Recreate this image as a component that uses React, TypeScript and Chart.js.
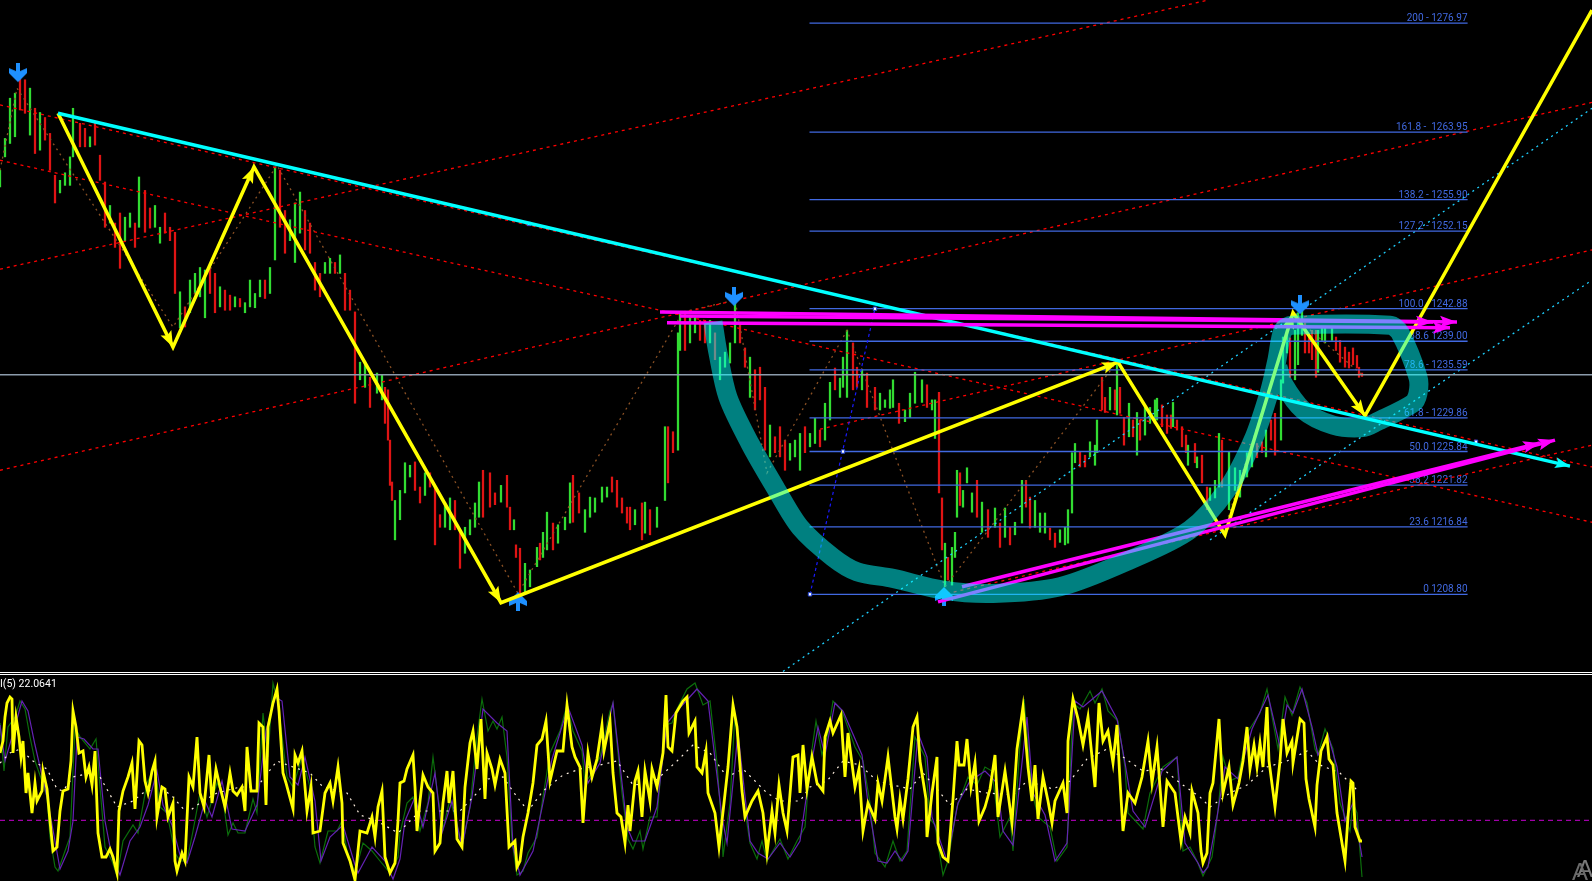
import React, { useEffect, useRef } from "react";
import { Chart, registerables } from "chart.js";

Chart.register(...registerables);

// ---------- price bars: [time, high, low, up(1)/down(0)] ----------
const barsFirstLeg: number[][] = [
  [0,1259.4,1257.4,1],[5,1263.2,1261.0,1],[10,1268.0,1262.6,1],[15,1268.6,1263.4,1],[20,1270.4,1266.6,0],[25,1270.2,1266.2,0],[30,1269.2,1263.6,1],[35,1266.8,1261.4,0],[40,1266.3,1261.8,1],[45,1265.7,1263.0,0],
  [50,1263.8,1259.4,0],[55,1258.8,1255.5,0],[60,1258.2,1256.7,1],[65,1259.1,1257.6,1],[70,1261.0,1257.6,1],[73,1266.8,1261.0,1],[80,1265.0,1262.2,0],[85,1264.4,1262.2,0],[90,1263.4,1262.2,1],[95,1265.1,1262.4,0],
  [100,1261.2,1258.2,0],[105,1258.0,1252.6,0],[110,1255.2,1253.1,1],[115,1253.1,1250.2,0],[120,1254.3,1247.7,0],[125,1253.8,1251.0,1],[130,1254.3,1252.6,1],[135,1253.1,1250.2,0],[139,1258.6,1252.6,1],[145,1257.0,1252.0,0],
  [150,1254.9,1252.5,0],[155,1255.2,1252.6,1],[160,1252.6,1250.7,1],[165,1254.3,1251.9,0],[170,1252.6,1251.0,0],[175,1252.0,1244.7,0],[180,1244.9,1240.6,1],[185,1243.1,1240.7,0],[190,1246.3,1242.4,1],[195,1247.1,1244.7,1],
  [200,1247.8,1244.3,1],[205,1247.5,1241.8,1],[210,1247.8,1244.7,0],[215,1247.1,1242.4,0],[220,1245.5,1243.1,1],[225,1245.1,1242.7,0],[230,1244.5,1242.7,0],[235,1244.3,1243.1,1],[240,1244.1,1243.1,0],[245,1243.6,1242.4,1],
  [250,1246.3,1243.1,1],[255,1244.7,1243.0,1],[260,1246.3,1244.3,1],[265,1246.3,1244.1,0],[270,1247.8,1244.7,1],[275,1259.8,1248.7,1],[280,1259.4,1252.6,0],[285,1254.6,1249.5,0],[290,1253.5,1251.0,1],[295,1255.5,1248.4,1],
  [300,1256.8,1251.9,1],[305,1254.6,1249.9,0],[310,1253.1,1249.5,0],[315,1248.4,1245.1,0],[320,1247.1,1244.3,0],[325,1248.4,1247.1,1],[330,1248.9,1247.1,1],[335,1248.4,1247.1,0],[340,1249.3,1247.1,1],[345,1247.1,1242.7,0],
  [350,1245.1,1242.7,0],[355,1242.5,1231.6,0],[360,1236.5,1234.4,1],[365,1236.4,1233.5,1],[370,1234.7,1231.1,0],[377,1235.2,1232.8,1],[382,1235.0,1232.0,1],[385,1233.5,1229.2,0],[388,1233.2,1227.2,0],[390,1227.2,1221.8,0],
  [392,1222.2,1220.0,0],[395,1220.0,1215.3,1],[400,1221.2,1217.7,1],[405,1224.5,1220.9,1],[410,1224.2,1222.8,1],[415,1224.6,1221.2,0],[420,1221.6,1219.7,0],[425,1223.3,1220.6,1],[430,1223.3,1221.6,0],[435,1221.6,1214.7,0],
  [440,1218.3,1216.8,0],[445,1219.7,1216.8,1],[450,1220.3,1216.5,1],[455,1220.0,1216.5,0],[460,1216.5,1211.9,0],[465,1216.8,1213.7,1],[470,1217.7,1215.9,1],[475,1219.7,1216.8,1],[479,1222.2,1218.0,1],[483,1223.6,1218.0,0],
  [490,1223.3,1219.2,0],[495,1220.9,1219.5,0],[501,1221.8,1219.8,1],[507,1223.0,1219.2,0],[510,1219.2,1216.5,0],[514,1217.7,1216.5,1],
];
const barsSecondLeg: number[][] = [
  [516,1214.7,1213.2,0],[520,1214.3,1208.9,0],[525,1212.5,1208.9,1],[530,1211.7,1209.7,1],[537,1214.4,1212.1,1],[540,1214.9,1212.9,0],[543,1216.2,1213.2,1],[547,1218.6,1214.1,1],[553,1217.3,1214.1,0],[558,1217.1,1214.9,1],
  [565,1218.0,1216.5,1],[570,1222.1,1217.3,1],[573,1223.0,1217.4,0],[579,1220.9,1218.5,0],[585,1218.9,1216.2,1],[590,1220.4,1218.0,1],[595,1220.3,1218.6,1],[602,1221.6,1219.8,1],[607,1221.6,1220.4,1],[612,1222.8,1221.0,0],
  [617,1222.4,1219.2,0],[622,1220.3,1218.5,0],[627,1219.2,1217.3,0],[630,1219.2,1216.5,0],[635,1218.9,1217.1,1],[642,1219.7,1215.3,0],[645,1219.8,1216.1,1],[650,1218.9,1215.9,0],[657,1219.2,1216.8,1],[665,1228.8,1220.0,1],
  [668,1228.8,1222.1,0],[673,1228.2,1225.7,0],[678,1240.0,1226.0,1],[680,1242.5,1237.9,1],[685,1242.4,1237.9,0],[690,1242.1,1238.8,1],[695,1241.9,1240.0,1],[700,1241.5,1239.1,0],[705,1241.5,1238.8,0],[710,1241.5,1238.8,1],
  [715,1240.0,1236.8,0],[720,1237.1,1234.4,1],[725,1237.7,1235.9,1],[730,1238.8,1236.4,1],[735,1243.6,1238.8,1],[740,1241.2,1238.8,0],[745,1238.2,1235.9,0],[750,1237.1,1232.3,1],[755,1235.6,1230.8,0],[760,1235.9,1232.0,0],
  [765,1233.5,1226.0,0],[770,1229.0,1225.2,1],[775,1227.6,1225.7,0],[780,1228.8,1225.2,0],[785,1227.2,1223.6,0],[790,1226.8,1224.8,1],[795,1227.2,1225.2,1],[800,1228.0,1223.6,1],[805,1228.8,1225.7,0],[810,1228.0,1226.4,1],
  [815,1229.8,1226.8,1],[820,1228.4,1226.4,0],[825,1231.6,1227.2,1],[830,1234.1,1229.6,1],[835,1235.8,1233.2,0],[840,1234.6,1232.3,1],[843,1237.1,1233.5,1],[847,1240.3,1232.3,1],[853,1238.8,1233.2,0],[857,1235.9,1233.5,0],
  [862,1235.6,1233.2,1],[867,1235.2,1231.1,0],[875,1233.5,1230.8,0],[880,1232.8,1230.8,1],[885,1232.0,1231.1,1],[890,1233.2,1231.0,1],[893,1234.4,1231.1,1],[899,1231.6,1229.2,0],[905,1230.8,1229.4,1],[910,1232.8,1229.9,1],
  [915,1235.3,1231.6,1],[922,1234.4,1231.7,1],[927,1233.8,1231.1,0],[932,1232.0,1230.8,1],[935,1232.0,1227.4,1],[939,1232.9,1220.9,0],[942,1220.3,1214.1,0],[945,1214.9,1209.7,1],[948,1213.2,1210.5,0],[952,1214.4,1209.9,1],
  [955,1216.2,1213.2,1],[957,1223.6,1218.0,1],[960,1223.3,1219.4,0],[963,1221.2,1219.2,1],[967,1223.9,1222.1,1],[972,1220.9,1218.6,1],[977,1222.4,1218.0,0],[982,1219.8,1216.2,1],[988,1218.9,1215.6,0],[995,1219.1,1216.8,1],
];
const barsThirdLeg: number[][] = [
  [1000,1217.3,1214.4,0],[1005,1219.1,1215.6,1],[1010,1216.8,1214.7,0],[1015,1217.4,1215.9,1],[1022,1222.4,1217.3,1],[1026,1222.4,1219.2,0],[1030,1220.4,1216.7,0],[1035,1220.0,1216.8,1],[1040,1218.5,1216.2,1],[1045,1218.5,1216.1,1],
  [1050,1216.7,1215.3,0],[1055,1216.1,1214.4,0],[1060,1216.5,1215.0,1],[1065,1216.8,1214.7,1],[1068,1218.9,1214.9,1],[1072,1225.7,1218.5,1],[1075,1226.8,1224.5,1],[1080,1225.8,1224.0,0],[1085,1225.4,1224.0,0],[1090,1227.0,1225.2,1],
  [1095,1226.6,1224.2,1],[1097,1229.6,1225.7,1],[1102,1234.7,1230.8,0],[1105,1232.3,1230.5,0],[1110,1233.5,1230.8,1],[1115,1233.2,1230.8,0],[1117,1236.8,1230.2,1],[1120,1233.5,1230.4,0],[1124,1229.9,1226.6,0],[1129,1231.6,1227.6,1],
  [1133,1229.6,1227.6,0],[1137,1230.5,1225.4,1],[1140,1229.6,1227.2,0],[1145,1231.4,1227.8,1],[1150,1231.1,1229.2,1],[1155,1232.0,1229.6,1],[1157,1232.2,1229.6,1],[1162,1231.4,1228.8,0],[1167,1230.2,1228.0,0],[1171,1230.2,1228.6,0],
  [1173,1231.7,1228.8,1],[1177,1229.6,1228.4,0],[1182,1228.8,1226.4,0],[1186,1227.8,1225.7,0],[1188,1226.6,1224.2,1],[1195,1226.8,1224.5,0],[1197,1225.2,1223.9,1],[1202,1225.4,1222.1,0],[1207,1221.6,1218.9,0],[1210,1221.5,1220.0,1],
  [1215,1222.4,1220.3,1],[1219,1228.0,1221.6,1],[1222,1227.2,1221.6,0],[1229,1225.8,1218.9,1],[1235,1223.9,1221.2,1],[1240,1223.6,1220.4,1],[1247,1225.7,1222.8,1],[1252,1226.8,1224.0,1],[1257,1226.8,1225.1,0],[1262,1227.0,1225.7,0],
  [1266,1228.4,1225.2,1],[1271,1229.6,1227.2,0],[1275,1230.4,1225.4,0],[1281,1234.4,1227.2,1],[1283,1239.5,1234.0,1],[1287,1240.3,1237.6,1],[1290,1239.4,1234.7,0],[1295,1240.3,1234.4,1],[1298,1242.4,1236.2,1],[1302,1242.7,1239.7,1],
  [1305,1241.2,1237.6,0],[1309,1239.7,1237.6,0],[1312,1240.3,1236.8,0],[1316,1240.3,1234.7,0],[1318,1240.3,1235.3,1],[1322,1240.6,1239.1,1],[1325,1240.6,1238.8,1],[1332,1240.6,1239.1,1],[1336,1239.5,1237.9,0],[1340,1239.1,1236.5,0],
  [1345,1238.3,1235.9,0],[1349,1237.7,1235.8,0],[1353,1238.2,1236.2,0],[1357,1237.3,1235.8,0],[1359,1235.9,1234.7,0],[1362,1235.2,1234.8,0],
];

// ---------- fibonacci levels ----------
const fibPrices = [1276.97, 1263.95, 1255.9, 1252.15, 1242.88, 1239.0, 1235.59, 1229.86, 1225.84, 1221.82, 1216.84, 1208.8];
const fibLabels = ["200 - 1276.97", "161.8 -  1263.95", "138.2 - 1255.90", "127.2 - 1252.15", "100.0 - 1242.88", "88.6 1239.00", "78.6 - 1235.59", "61.8 - 1229.86", "50.0 1225.84", "38.2 1221.82", "23.6 1216.84", "0 1208.80"];
const fibStart = 809.5;
const fibEnd = 1467.6;
const bidPrice = 1235.0;

// ---------- drawn objects, [time, price] ----------
const redChannels: number[][][] = [
  [[0,1267.2],[1592,1224.0]],
  [[0,1260.6],[1592,1217.4]],
  [[0,1247.6],[1208,1279.7]],
  [[0,1223.6],[1592,1267.5]],
  [[820,1228.5],[1592,1249.9]],
  [[940,1208.7],[1592,1226.6]],
];
const cyanChannels: number[][][] = [
  [[783,1199.6],[1592,1266.8]],
  [[1210,1215.3],[1592,1246.3]],
];
const zigzag: number[][] = [[0,1259.4],[17,1269.2],[173,1240.7],[277,1260.0],[518,1208.9],[683,1242.5],[735,1243.9],[767,1223.3],[847,1240.3],[945,1209.7],[1118,1236.7],[1223,1216.1],[1293,1242.1],[1362,1235.0]];
const fibBaseline: number[][] = [[810,1208.8],[875,1242.9]];
const handles: number[][] = [[810,1208.8],[843,1225.84],[875,1242.88],[529,1253.0],[1476,1227.0]];
const yellowWaves: number[][] = [[58,1266.2],[173,1238.3],[254,1259.8],[501,1207.8],[1118,1236.5],[1225,1215.9],[1293,1242.4],[1365,1230.1],[1592,1278.5]];
const cyanTrend: number[][] = [[58,1266.2],[1570,1224.1]];
const magentaArrows: number[][][] = [
  [[660,1242.5],[1457,1241.3]],
  [[680,1242.0],[1433,1241.3]],
  [[667,1241.2],[1450,1240.6]],
  [[938,1207.9],[1555,1227.2]],
  [[962,1209.7],[1540,1226.85]],
];
const cupHandle: number[][] = [[713,1241.3],[718,1237.6],[728,1232.3],[750,1226.8],[775,1221.6],[800,1216.8],[833,1213.2],[857,1211.5],[893,1210.7],[943,1209.3],[993,1208.9],[1060,1209.7],[1130,1212.9],[1190,1216.5],[1227,1221.3],[1253,1227.2],[1270,1233.2],[1277,1236.8],[1283,1240.3],[1292,1240.9],[1390,1240.9],[1400,1240.0],[1418,1234.7],[1418,1232.8],[1413,1231.6],[1377,1229.4],[1363,1228.7],[1333,1229.0],[1303,1230.8],[1283,1234.0],[1278,1235.9]];
const downMarks: number[][] = [[18,1271.0],[734,1244.3],[1300,1243.3]];
const upMarks: number[][] = [[518,1208.0],[944,1208.6]];

// ---------- oscillator, [time, value] ----------
const oscLevel = 30.3;
const oscReadout = "I(5) 22.0641";
const fastA: number[][] = [[0,64],[3,70],[5,82],[7,89],[10,92],[12,91],[13,64],[16,82],[19,72],[21,62],[23,70],[26,44],[28,54],[32,34],[35,49],[37,40],[42,45],[43,55],[47,46],[50,30],[53,15],[57,17],[60,35],[63,45],[68,46],[71,60],[73,85],[76,77],[79,64],[83,65],[86,52],[89,57],[92,48],[95,65],[98,24],[102,12],[106,12],[110,16],[113,12],[117,4],[119,35],[123,45],[128,52],[132,59],[135,36],[139,70],[142,68],[145,50],[148,44],[152,55],[155,60],[157,32],[162,47],[165,46],[168,32],[173,39],[175,10],[177,5],[182,14],[185,10],[189,52],[193,47],[197,72],[200,44],[204,37],[209,63],[212,39],[216,56],[220,47],[225,37],[230,54],[233,45],[237,43],[242,47],[245,35],[247,67],[251,45],[257,45],[259,79],[263,77],[266,38],[268,77],[273,89],[277,96],[279,85],[283,54],[286,49],[293,36],[295,63],[298,59],[302,65],[307,35],[311,47],[313,24],[320,25],[325,44],[330,49],[333,40],[338,57],[342,39],[343,19],[350,10],[355,0.5],[360,25],[367,24],[372,32],[375,22],[378,37],[382,45],[385,12],[390,4],[395,9],[398,30]];
const fastB: number[][] = [[400,49],[404,50],[407,56],[413,63],[415,47],[417,25],[420,40],[423,53],[428,47],[433,44],[435,15],[440,19],[443,39],[447,55],[449,39],[453,55],[457,21],[462,17],[465,47],[470,69],[473,75],[477,56],[481,81],[485,41],[487,64],[492,56],[495,48],[500,61],[505,54],[509,17],[515,20],[517,7],[520,10],[523,22],[528,34],[533,49],[537,68],[542,71],[546,80],[550,50],[557,65],[563,65],[567,88],[572,67],[575,62],[580,57],[583,29],[588,64],[592,52],[597,61],[602,78],[604,65],[610,80],[613,54],[617,34],[621,32],[625,19],[628,38],[630,25],[635,50],[638,55],[642,32],[645,55],[650,40],[652,56],[657,47],[663,64],[666,93],[668,67],[672,65],[676,84],[683,90],[687,92],[689,74],[695,80],[697,57],[702,54],[706,65],[708,44],[715,34],[719,17],[724,39],[728,57],[733,88],[737,77],[742,45],[745,32],[752,40],[758,45],[763,34],[767,14],[772,35],[775,24],[779,48],[783,34],[787,25],[793,62],[798,63]];
const fastC: number[][] = [[800,44],[803,68],[807,46],[812,62],[817,49],[823,45],[825,72],[830,80],[833,74],[841,83],[845,52],[848,74],[855,47],[859,56],[863,25],[868,39],[875,31],[878,49],[882,40],[888,62],[895,32],[897,26],[900,41],[903,31],[908,51],[913,77],[917,82],[920,60],[926,41],[927,22],[932,44],[937,62],[938,19],[943,12],[948,10],[953,41],[957,70],[959,58],[964,58],[967,71],[971,47],[975,59],[979,30],[985,37],[990,46],[995,63],[998,32],[1005,55],[1012,29],[1017,66],[1023,87],[1028,57],[1032,40],[1035,58],[1038,31],[1043,52],[1048,40],[1052,29],[1055,40],[1063,49],[1067,34],[1068,70],[1073,91],[1078,81],[1083,68],[1088,82],[1095,47],[1099,89],[1103,70],[1108,75],[1113,59],[1117,78],[1120,50],[1123,25],[1128,44],[1135,39],[1142,52],[1148,70],[1152,49],[1157,67],[1163,27],[1167,50],[1175,44],[1181,20],[1185,32],[1190,24],[1192,45],[1198,34],[1201,15],[1203,9],[1207,14],[1210,44],[1213,49],[1219,81],[1223,44],[1229,57],[1233,38],[1239,49],[1243,60],[1247,77],[1250,56],[1254,68],[1257,57],[1260,69],[1263,57],[1267,87],[1269,60],[1275,37],[1280,60],[1283,81],[1287,64],[1292,70],[1293,59],[1300,81],[1304,79],[1306,51],[1309,41],[1315,27],[1317,48],[1321,65],[1327,72],[1329,61],[1333,58],[1337,34],[1345,10],[1348,32],[1351,50],[1353,49],[1355,27],[1360,20],[1362,20]];
const greenLine: number[][] = [[0,79],[4,55],[8,77],[15,82],[20,90],[25,86],[30,72],[35,60],[42,50],[47,42],[50,22],[55,7],[58,5],[65,15],[70,22],[75,77],[80,72],[90,66],[96,71],[100,47],[105,17],[112,10],[117,2.5],[123,20],[133,28],[138,24],[147,49],[155,57],[160,37],[167,34],[175,14],[180,10],[187,10],[193,25],[200,44],[207,32],[217,49],[222,44],[228,23],[233,29],[238,24],[245,24],[253,41],[257,34],[263,84],[268,62],[273,99],[278,89],[287,52],[293,47],[302,62],[310,47],[315,17],[320,9],[328,25],[337,25],[342,30],[347,15],[355,4],[363,19],[372,15],[380,10],[390,4],[398,12],[400,24],[407,39],[413,42],[420,25],[428,39],[433,62],[438,42],[443,26],[450,41],[455,32],[462,17],[470,37],[477,72],[482,91],[488,75],[493,80],[497,76],[502,82],[507,62],[512,20],[517,3],[523,5],[528,14],[537,22],[543,42],[550,64],[560,75],[567,88],[573,75],[582,65],[585,49],[592,54],[600,62],[610,85],[613,89],[622,44],[628,21],[633,16],[640,25],[643,16],[650,32],[657,32],[665,78],[672,79],[677,86],[687,96],[695,99],[703,88],[710,90],[717,59],[722,25],[723,12],[730,39],[735,84],[743,42],[750,19],[757,11],[762,20],[767,10],[780,21],[788,11],[797,20],[805,27],[810,59],[816,80],[822,63],[828,74],[833,90],[842,85],[855,67],[863,60],[870,39],[875,14],[885,7],[893,20],[900,10],[907,15],[915,72],[925,62],[930,31],[935,28],[943,3],[948,10],[957,37],[968,52],[977,48],[985,57],[992,55],[1000,22],[1010,32],[1013,15],[1020,69],[1024,91],[1032,45],[1038,32],[1050,27],[1057,10],[1067,17],[1073,89],[1080,86],[1090,95],[1095,89],[1102,96],[1108,85],[1118,80],[1125,57],[1128,34],[1143,26],[1150,44],[1163,57],[1177,62],[1183,15],[1190,17],[1197,10],[1203,2.5],[1212,12],[1218,35],[1223,62],[1230,50],[1238,52],[1247,74],[1260,84],[1267,96],[1278,66],[1285,92],[1292,83],[1300,97],[1307,89],[1315,66],[1318,63],[1325,76],[1333,66],[1340,39],[1350,25],[1353,39],[1357,34],[1362,2]];
const purpleLine: number[][] = [[0,78],[5,60],[12,72],[22,90],[28,85],[35,68],[47,42],[55,20],[60,6],[68,15],[73,30],[77,72],[84,71],[93,66],[98,66],[105,30],[112,12],[120,3],[130,20],[140,27],[148,38],[157,55],[163,38],[172,28],[180,13],[187,9],[195,22],[205,40],[212,32],[222,50],[232,26],[245,25],[257,38],[266,75],[275,92],[282,90],[290,52],[298,48],[305,62],[315,40],[321,10],[330,22],[343,28],[355,8],[358,4],[372,17],[385,10],[393,1],[400,11],[405,30],[415,42],[423,27],[435,54],[442,24],[452,40],[462,17],[472,42],[483,86],[497,79],[507,75],[513,17],[520,3],[533,15],[543,39],[552,61],[568,87],[582,68],[588,49],[600,59],[613,89],[627,27],[633,20],[645,20],[657,37],[667,79],[677,85],[697,96],[708,90],[722,32],[727,19],[738,74],[750,20],[758,14],[768,11],[780,19],[790,12],[800,20],[810,55],[818,77],[825,63],[835,89],[843,85],[862,63],[868,39],[878,10],[887,9],[895,15],[902,10],[908,15],[918,74],[927,62],[932,32],[947,10],[958,39],[970,50],[985,55],[997,49],[1003,25],[1013,18],[1027,82],[1033,44],[1045,33],[1055,10],[1067,19],[1075,90],[1083,87],[1102,95],[1117,81],[1125,59],[1133,35],[1145,27],[1162,55],[1177,62],[1185,19],[1198,9],[1203,4],[1208,7],[1217,32],[1225,57],[1238,51],[1252,76],[1268,93],[1280,67],[1287,88],[1293,84],[1302,96],[1312,77],[1318,63],[1328,73],[1337,57],[1345,30],[1353,39],[1362,12]];
const signalLine: number[][] = [[0,59],[10,64],[20,66],[33,60],[47,56],[57,46],[63,45],[73,52],[90,54],[100,52],[117,37],[133,40],[143,44],[160,47],[173,42],[187,34],[200,39],[217,44],[240,47],[257,47],[277,60],[293,57],[310,54],[323,47],[347,44],[360,33],[377,30],[398,24],[420,35],[443,35],[460,35],[477,44],[488,51],[503,52],[517,42],[528,35],[543,45],[563,53],[580,56],[600,58],[617,60],[633,48],[653,49],[677,60],[693,68],[710,64],[727,52],[743,56],[767,44],[780,40],[800,40],[810,47],[827,50],[843,60],[860,58],[877,50],[893,48],[910,46],[923,54],[937,46],[950,38],[967,46],[987,44],[1013,43],[1027,50],[1053,46],[1070,50],[1087,61],[1107,66],[1123,62],[1143,55],[1163,56],[1180,49],[1200,42],[1210,37],[1230,44],[1247,48],[1267,57],[1287,60],[1307,65],[1320,58],[1340,54],[1358,45]];

const xy = (rows: number[][]) => rows.map(([x, y]) => ({ x, y }));

function arrowSprite(pointsDown: boolean): HTMLCanvasElement {
  const c = document.createElement("canvas");
  c.width = 18;
  c.height = 20;
  const g = c.getContext("2d")!;
  if (!pointsDown) {
    g.translate(0, 20);
    g.scale(1, -1);
  }
  g.fillStyle = "#1e90ff";
  g.beginPath();
  g.moveTo(7, 0);
  g.lineTo(11, 0);
  g.lineTo(11, 8);
  g.lineTo(18, 5);
  g.lineTo(18, 10);
  g.lineTo(9, 19);
  g.lineTo(0, 10);
  g.lineTo(0, 5);
  g.lineTo(7, 8);
  g.closePath();
  g.fill();
  return c;
}

const arrowHeadPlugin = {
  id: "arrowHead",
  afterDatasetDraw(chart: any, args: any) {
    const ds = chart.data.datasets[args.index];
    if (!ds.head) return;
    const ctx = chart.ctx;
    const pts = args.meta.data;
    const heads: number[] = ds.head.at;
    ctx.save();
    ctx.fillStyle = ds.borderColor;
    for (const i of heads) {
      const a = pts[i - 1];
      const b = pts[i];
      const ang = Math.atan2(b.y - a.y, b.x - a.x);
      ctx.translate(b.x, b.y);
      ctx.rotate(ang);
      ctx.beginPath();
      ctx.moveTo(0, 0);
      ctx.lineTo(-ds.head.len, -ds.head.half);
      ctx.lineTo(-ds.head.len * 0.8, 0);
      ctx.lineTo(-ds.head.len, ds.head.half);
      ctx.closePath();
      ctx.fill();
      ctx.rotate(-ang);
      ctx.translate(-b.x, -b.y);
    }
    ctx.restore();
  },
};

const fibTextPlugin = {
  id: "fibText",
  beforeDatasetsDraw(chart: any) {
    const ctx = chart.ctx;
    const xs = chart.scales.x;
    const ys = chart.scales.y;
    ctx.save();
    ctx.font = '10px Roboto';
    ctx.fillStyle = "#4169e1";
    ctx.textAlign = "right";
    fibLabels.forEach((t, i) => {
      ctx.fillText(t, xs.getPixelForValue(fibEnd), ys.getPixelForValue(fibPrices[i]) - 2);
    });
    ctx.restore();
  },
};

const thinLine = (data: number[][], color: string, dash: number[], width = 1) => ({
  type: "line" as const,
  data: xy(data),
  borderColor: color,
  borderWidth: width,
  borderDash: dash,
  pointRadius: 0,
  tension: 0,
});

export default function App() {
  const mainRef = useRef<HTMLCanvasElement>(null);
  const oscRef = useRef<HTMLCanvasElement>(null);

  useEffect(() => {
    document.documentElement.style.background = "#000";
    document.body.style.margin = "0";
    document.body.style.background = "#000";
    document.body.style.overflow = "hidden";

    const allBars = [...barsFirstLeg, ...barsSecondLeg, ...barsThirdLeg];
    const common = {
      responsive: false,
      animation: false as const,
      devicePixelRatio: 1,
      layout: { padding: 0, autoPadding: false },
      plugins: { legend: { display: false }, tooltip: { enabled: false } },
      events: [] as any[],
    };

    const main = new Chart(mainRef.current!, {
      type: "bar",
      plugins: [arrowHeadPlugin, fibTextPlugin],
      data: {
        datasets: [
          {
            type: "line",
            data: xy(cupHandle),
            borderColor: "rgba(0,255,255,0.5)",
            borderWidth: 19,
            borderCapStyle: "butt",
            borderJoinStyle: "round",
            pointRadius: 0,
            tension: 0.3,
          },
          ...magentaArrows.map((m) => ({
            type: "line",
            data: xy(m),
            borderColor: "#ff00ff",
            borderWidth: 3.5,
            pointRadius: 0,
            head: { at: [1], len: 17, half: 6 },
          })),
          {
            type: "line",
            data: xy(cyanTrend),
            borderColor: "#00ffff",
            borderWidth: 3.5,
            pointRadius: 0,
            head: { at: [1], len: 15, half: 5.5 },
          },
          {
            type: "line",
            data: xy(yellowWaves),
            borderColor: "#ffff00",
            borderWidth: 3.5,
            pointRadius: 0,
            borderJoinStyle: "miter",
            head: { at: [1, 2, 3, 4, 6, 7], len: 16, half: 6 },
          },
          {
            type: "line",
            data: xy(downMarks),
            showLine: false,
            pointStyle: arrowSprite(true),
            pointRadius: 9,
          },
          {
            type: "line",
            data: xy(upMarks),
            showLine: false,
            pointStyle: arrowSprite(false),
            pointRadius: 9,
          },
          {
            type: "line",
            data: xy(handles),
            showLine: false,
            pointStyle: "rect",
            pointRadius: 2.4,
            pointBackgroundColor: "#ffffff",
            pointBorderColor: "#2040d0",
            pointBorderWidth: 1,
          },
          thinLine(fibBaseline, "#1a1aff", [3, 3], 1.2),
          ...fibPrices.map((p) => thinLine([[fibStart, p], [fibEnd, p]], "#4169e1", [], 1.3)),
          thinLine([[0, bidPrice], [1592, bidPrice]], "#8c9cac", [], 1.3),
          ...redChannels.map((r) => thinLine(r, "#ff0000", [3, 4], 1.3)),
          ...cyanChannels.map((r) => thinLine(r, "#1fd0ff", [2, 4], 1.3)),
          thinLine(zigzag, "#8a5024", [2, 4], 1.3),
          {
            type: "bar",
            data: allBars.map(([x, hi, lo]) => ({ x, y: [lo, hi] })),
            backgroundColor: allBars.map((b) => (b[3] ? "#32dc32" : "#e01414")),
            borderWidth: 0,
            barThickness: 1.6,
            grouped: false,
          },
        ] as any,
      },
      options: {
        ...common,
        scales: {
          x: { type: "linear", display: false, min: 0, max: 1592, offset: false },
          y: { type: "linear", display: false, min: 1199.53, max: 1279.72 },
        },
      } as any,
    });

    const osc = new Chart(oscRef.current!, {
      type: "line",
      data: {
        datasets: [
          { ...thinLine([...fastA, ...fastB, ...fastC], "#ffff00", [], 2.8), borderJoinStyle: "miter" },
          thinLine(signalLine, "#fff0e0", [2, 5], 1.2),
          thinLine(purpleLine, "#6422b4", [], 1.2),
          thinLine(greenLine, "#0b6e0b", [], 1.2),
          thinLine([[0, oscLevel], [1592, oscLevel]], "#a000a8", [5, 4], 1.2),
        ] as any,
      },
      options: {
        ...common,
        scales: {
          x: { type: "linear", display: false, min: 0, max: 1592, offset: false },
          y: { type: "linear", display: false, min: 0, max: 102.5 },
        },
      } as any,
    });

    return () => {
      main.destroy();
      osc.destroy();
    };
  }, []);

  return (
    <div style={{ position: "relative", width: 1592, height: 881, background: "#000", overflow: "hidden" }}>
      <canvas ref={mainRef} width={1592} height={672} style={{ position: "absolute", left: 0, top: 0, width: 1592, height: 672 }} />
      <div style={{ position: "absolute", left: 0, top: 672, width: 1592, height: 1, background: "#fff" }} />
      <div style={{ position: "absolute", left: 0, top: 674, width: 1592, height: 1, background: "#fff" }} />
      <canvas ref={oscRef} width={1592} height={205} style={{ position: "absolute", left: 0, top: 676, width: 1592, height: 205 }} />
      <div style={{ position: "absolute", left: 0, top: 677, font: "10.5px Roboto", color: "#fff", whiteSpace: "pre" }}>{oscReadout}</div>
      <div style={{ position: "absolute", left: 1577, top: 855, font: "24px 'Liberation Sans'", color: "#7a7a7a" }}>A</div>
      <div style={{ position: "absolute", left: 1572, top: 858, font: "24px 'Liberation Sans'", color: "#6a6a6a" }}>A</div>
    </div>
  );
}
